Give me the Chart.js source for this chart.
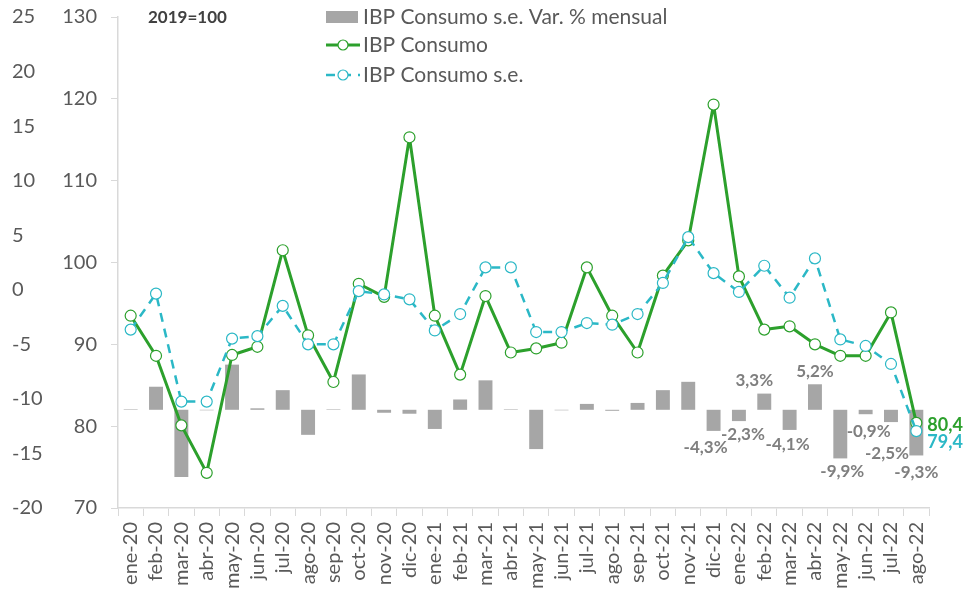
<!DOCTYPE html>
<html lang="es">
<head>
    <meta charset="UTF-8">
    <title>IBP Consumo</title>
    <script src="https://cdn.jsdelivr.net/npm/chart.js"></script>
    <style>
        html, body { margin: 0; padding: 0; background: #fff; }
        .wrap { width: 965px; height: 589px; position: relative; }
    </style>
</head>
<body>
<div class="wrap"><canvas id="chart"></canvas></div>
<script>
// months, ene-20 .. ago-22
const months = ['ene-20','feb-20','mar-20','abr-20','may-20','jun-20','jul-20','ago-20','sep-20','oct-20','nov-20','dic-20',
                'ene-21','feb-21','mar-21','abr-21','may-21','jun-21','jul-21','ago-21','sep-21','oct-21','nov-21','dic-21',
                'ene-22','feb-22','mar-22','abr-22','may-22','jun-22','jul-22','ago-22'];

// IBP Consumo (2019=100)
const consumo = [93.5, 88.6, 80.1, 74.3, 88.7, 89.7, 101.5, 91.1, 85.4, 97.4, 95.8, 115.3,
                 93.5, 86.3, 95.9, 89.0, 89.5, 90.2, 99.4, 93.5, 89.0, 98.4, 102.7, 119.3,
                 98.3, 91.8, 92.2, 90.0, 88.6, 88.6, 93.9, 80.4];

// IBP Consumo s.e.
const consumoSe = [91.8, 96.2, 83.0, 83.0, 90.7, 91.0, 94.7, 90.0, 90.0, 96.5, 96.1, 95.5,
                   91.7, 93.7, 99.4, 99.4, 91.5, 91.5, 92.6, 92.4, 93.7, 97.5, 103.1, 98.7,
                   96.4, 99.6, 95.7, 100.5, 90.6, 89.8, 87.6, 79.4];

// s.e. Var. % mensual
const varMensual = [0.1, 4.7, -13.7, -0.1, 9.2, 0.3, 4.0, -5.1, 0.1, 7.2, -0.6, -0.8,
                    -3.9, 2.1, 6.0, 0.1, -8.0, -0.1, 1.2, -0.2, 1.4, 4.0, 5.7, -4.3,
                    -2.3, 3.3, -4.1, 5.2, -9.9, -0.9, -2.5, -9.3];

// bars with a value label (from dic-21 on)
const labelFrom = 23;

const outerTicks = [-20, -15, -10, -5, 0, 5, 10, 15, 20, 25];

const GREEN = '#2ca02c';
const CYAN = '#2bb8c6';
const BAR = '#a6a6a6';
const TEXT = '#595959';
const FONT = 'Lato, "Open Sans", sans-serif';

function fmt(v) {
    return v.toFixed(1).replace('.', ',');
}

// label nudges so the numbers clear the lines (px, [dx, dy])
const nudge = { 23: [-8, 4], 24: [4, 0], 25: [-10, 0], 26: [-2, 2], 28: [2, 0], 29: [3, 4], 30: [-4, 18], 31: [0, 4] };

const extras = {
    id: 'extras',
    afterDatasetsDraw(chart) {
        const ctx = chart.ctx;
        const area = chart.chartArea;
        ctx.save();

        // bar value labels
        const barMeta = chart.getDatasetMeta(2);
        ctx.font = 'bold 17px ' + FONT;
        ctx.fillStyle = '#7f7f7f';
        ctx.textAlign = 'center';
        ctx.textBaseline = 'middle';
        barMeta.data.forEach((bar, i) => {
            if (i < labelFrom) return;
            const v = varMensual[i];
            const n = nudge[i] || [0, 0];
            const y = v >= 0 ? bar.y - 13 : bar.y + 13;
            ctx.fillText(fmt(v) + '%', bar.x + n[0], y + n[1]);
        });

        // end values
        const last = months.length - 1;
        const g = chart.getDatasetMeta(0).data[last];
        const c = chart.getDatasetMeta(1).data[last];
        ctx.font = 'bold 18px ' + FONT;
        ctx.textAlign = 'left';
        ctx.fillStyle = GREEN;
        ctx.fillText(fmt(consumo[last]), g.x + 11, g.y + 2);
        ctx.fillStyle = CYAN;
        ctx.fillText(fmt(consumoSe[last]), c.x + 11, c.y + 11);

        // base note
        ctx.font = 'bold 17px ' + FONT;
        ctx.fillStyle = '#404040';
        ctx.textAlign = 'left';
        ctx.fillText('2019=100', area.left + 30, 18);

        // legend
        const lx = 326, rows = [17, 45, 75];
        ctx.font = '21px ' + FONT;
        ctx.textBaseline = 'middle';
        chart.data.datasets.forEach((ds, k) => {
            const row = k === 2 ? 0 : k + 1;
            const y = rows[row];
            if (ds.type === 'bar') {
                ctx.fillStyle = BAR;
                ctx.fillRect(lx, y - 6, 32, 12);
            } else {
                ctx.strokeStyle = ds.borderColor;
                ctx.lineWidth = ds.borderWidth;
                ctx.setLineDash(ds.borderDash || []);
                ctx.beginPath();
                ctx.moveTo(lx, y);
                ctx.lineTo(lx + 34, y);
                ctx.stroke();
                ctx.setLineDash([]);
                ctx.beginPath();
                ctx.arc(lx + 17, y, 5, 0, Math.PI * 2);
                ctx.fillStyle = '#fff';
                ctx.fill();
                ctx.lineWidth = 1.2;
                ctx.stroke();
            }
            ctx.fillStyle = TEXT;
            ctx.fillText(ds.label, lx + 37, y);
        });
        ctx.restore();
    }
};

new Chart(document.getElementById('chart'), {
    data: {
        labels: months,
        datasets: [
            {
                type: 'line',
                label: 'IBP Consumo',
                data: consumo,
                yAxisID: 'yIdx',
                borderColor: GREEN,
                borderWidth: 3,
                borderJoinStyle: 'round',
                pointRadius: 5.5,
                pointBackgroundColor: '#fff',
                pointBorderColor: GREEN,
                pointBorderWidth: 1.2,
                tension: 0,
                order: 1
            },
            {
                type: 'line',
                label: 'IBP Consumo s.e.',
                data: consumoSe,
                yAxisID: 'yIdx',
                borderColor: CYAN,
                borderWidth: 2.5,
                borderDash: [9, 7],
                borderJoinStyle: 'round',
                pointRadius: 5.5,
                pointBackgroundColor: '#fff',
                pointBorderColor: CYAN,
                pointBorderWidth: 1.2,
                tension: 0,
                order: 0
            },
            {
                type: 'bar',
                label: 'IBP Consumo s.e. Var. % mensual',
                data: varMensual,
                yAxisID: 'yBar',
                backgroundColor: BAR,
                barPercentage: 0.55,
                categoryPercentage: 1,
                order: 2
            }
        ]
    },
    options: {
        responsive: true,
        maintainAspectRatio: false,
        animation: false,
        layout: { padding: { left: 12, right: 36, top: 17, bottom: 0 } },
        plugins: {
            legend: { display: false },
            tooltip: { enabled: false }
        },
        scales: {
            x: {
                offset: true,
                grid: {
                    offset: true,
                    drawOnChartArea: false,
                    color: '#d9d9d9',
                    tickLength: 8
                },
                border: { color: '#d9d9d9', width: 1.5 },
                ticks: {
                    color: TEXT,
                    font: { family: FONT, size: 20 },
                    minRotation: 90,
                    maxRotation: 90,
                    autoSkip: false,
                    padding: 6
                },
                afterFit(scale) { scale.height = 81; }
            },
            yBar: {
                position: 'left',
                display: false,
                min: -20,
                max: 80
            },
            yOuter: {
                position: 'left',
                weight: 2,
                min: -20,
                max: 25,
                grid: { display: false, drawTicks: false },
                border: { display: false },
                afterBuildTicks(scale) { scale.ticks = outerTicks.map(v => ({ value: v })); },
                ticks: {
                    color: TEXT,
                    font: { family: FONT, size: 20 },
                    crossAlign: 'far',
                    padding: 0
                },
                afterFit(scale) {
                    scale.width = 50;
                    scale.paddingTop = 0;
                    scale.paddingBottom = 0;
                }
            },
            yIdx: {
                position: 'left',
                weight: 1,
                min: 70,
                max: 130,
                grid: {
                    drawOnChartArea: false,
                    color: '#d9d9d9',
                    tickLength: 7
                },
                border: { color: '#d9d9d9', width: 1.5 },
                ticks: {
                    stepSize: 10,
                    color: TEXT,
                    font: { family: FONT, size: 20 },
                    padding: 14
                },
                afterFit(scale) {
                    scale.width = 56;
                    scale.paddingTop = 0;
                    scale.paddingBottom = 0;
                }
            }
        }
    },
    plugins: [extras]
});
</script>
</body>
</html>
